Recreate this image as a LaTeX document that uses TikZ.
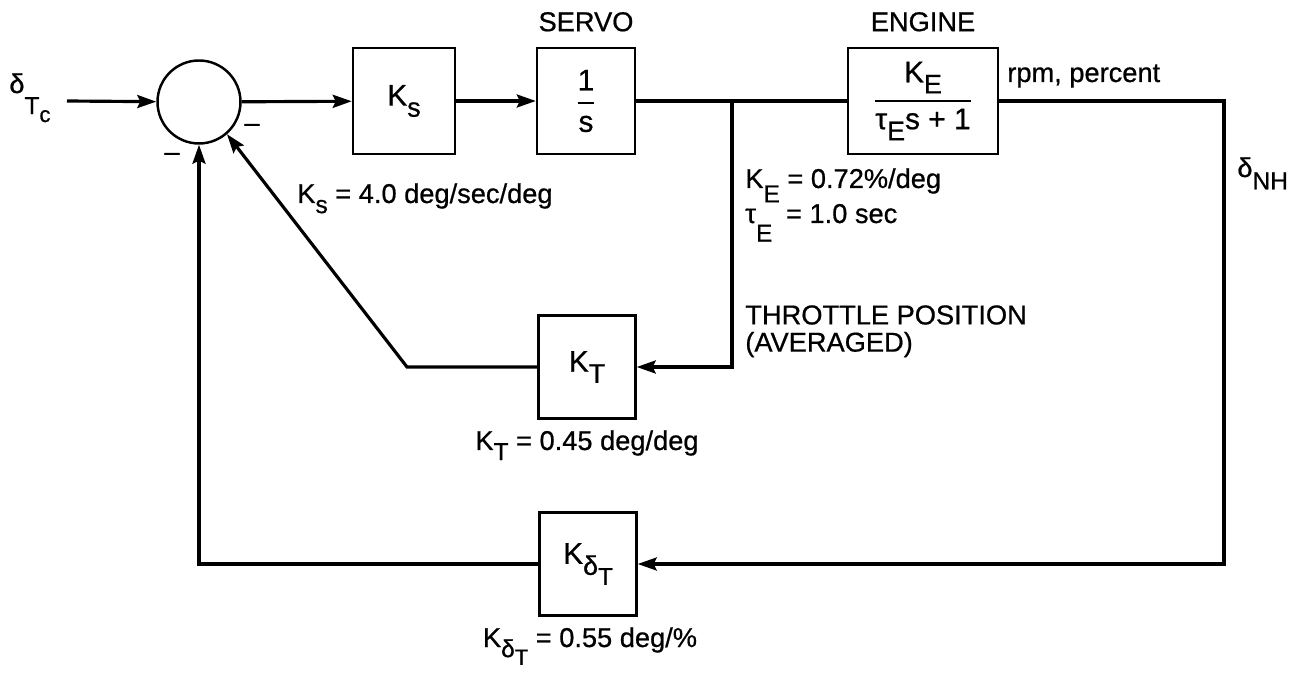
\documentclass[tikz,border=0pt]{standalone}
\usepackage{amsmath}
\usepackage{fontspec}
\setmainfont{Liberation Sans}[FakeBold=0.7]
\usetikzlibrary{arrows.meta,positioning}
\newcommand{\dn}[2][0.7ex]{\raisebox{-#1}{\scalebox{0.9}{#2}}}
\newcommand{\tf}[2]{$\genfrac{}{}{1.2pt}{0}{\text{#1}}{\text{#2}}$}

\begin{document}
\begin{tikzpicture}[x=0.02cm,y=-0.02cm,>={Stealth[length=3.8mm,width=2.6mm,inset=0.6mm]},
  blk/.style={draw,line width=1.4pt,minimum height=2.12cm,inner sep=0pt,font=\fontsize{17}{20}\selectfont},
  lbl/.style={inner sep=0pt,font=\fontsize{15.5}{18}\selectfont},
  wire/.style={line width=1.8pt}]
\useasboundingbox (0,0) rectangle (1306,675);
% forward path
\node[circle,draw,line width=1.4pt,minimum size=1.66cm,inner sep=0pt] (sum) at (199,102) {};
\node[blk,minimum width=2.04cm] (ks) at (404,101) {K\dn{s}};
\node[blk,minimum width=1.96cm] (servo) at (586,101) {\tf{1}{s}};
\node[blk,minimum width=3.0cm] (eng) at (923,101) {\tf{K\dn{E}}{τ\dn{E}s + 1}};
% feedback blocks
\node[blk,minimum width=1.94cm,minimum height=2.06cm] (kt) at (587,367) {K\dn{T}};
\node[blk,minimum width=1.94cm,minimum height=2.06cm] (kd) at (588,564) {K\dn{δ\dn{T}}};
\coordinate (src) at (67,101);
\coordinate (br) at (732,101);
\coordinate (rc) at (1224,101);
\coordinate (kn) at (407,367);
% labels
\node[lbl,anchor=base west] (dtc) at (9,93) {δ\dn[12pt]{T\dn[5pt]{c}}};
\node[lbl,anchor=base west] (dnh) at (1237,177) {δ\dn[7pt]{NH}};
\node[lbl,above=0.3cm of servo] (servo_t) {SERVO};
\node[lbl,above=0.3cm of eng] (eng_t) {ENGINE};
\node[lbl,anchor=base west] (rpm) at (1007,82) {rpm, percent};
\node[lbl,anchor=base west] (ks_v) at (297,203) {K\dn{s} = 4.0 deg/sec/deg};
\node[lbl,anchor=base west] (ke_v) at (745,188) {K\dn[1ex]{E} = 0.72\%/deg};
\node[lbl,anchor=base west] (te_v) at (745,223) {τ\dn[1.3ex]{E}\enspace = 1.0 sec};
\node[lbl,anchor=north west,align=left,font=\fontsize{15.5}{15.5}\selectfont] (thr) at (745,305) {THROTTLE POSITION\\(AVERAGED)};
\node[lbl,anchor=base] (kt_v) at (587,450) {K\dn{T} = 0.45 deg/deg};
\node[lbl,anchor=base] (kd_v) at (590,647) {K\dn{δ\dn[0.6ex]{T}} = 0.55 deg/\%};
\node[lbl] (m1) at (172,157) {–};
\node[lbl] (m2) at (252,128) {–};
% connectors
\draw[wire,->] (src) -- (sum);
\draw[wire,->] (sum) -- (ks);
\draw[wire,->] (ks) -- (servo);
\draw[wire] (servo) -- (eng);
\draw[wire,->] (eng) -- (rc) |- (kd);
\draw[wire,->] (br) |- (kt);
\draw[wire,->] (kt) -- (kn) -- (sum.-49);
\draw[wire,->] (kd) -| (sum);
\end{tikzpicture}
\end{document}
